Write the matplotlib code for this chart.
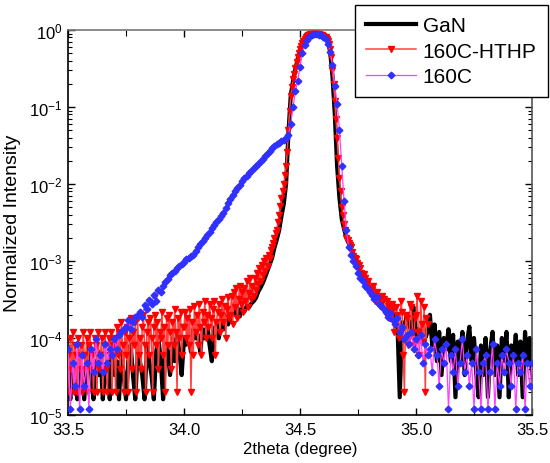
import numpy as np
import matplotlib
matplotlib.use("Agg")
import matplotlib.pyplot as plt
from matplotlib.ticker import LogLocator, FixedLocator, FuncFormatter, NullFormatter

plt.rcParams['font.family'] = ['Liberation Sans', 'DejaVu Sans']
plt.rcParams['mathtext.fontset'] = 'custom'
plt.rcParams['mathtext.rm'] = 'Liberation Sans'

# scan grids (degrees)
theta_start = 33.50
step_gan = 0.01
step_hthp = 0.005
step_c160 = 0.01
unit = 1e-5  # values below are normalized intensity in units of 1e-5

gan = [3.3, 1.6, 5, 3.3, 1.6, 6.6, 3.3, 1.6, 5, 8.2,
       3.3, 1.6, 5, 3.3, 6.6, 1.6, 3.3, 5, 1.6, 8.2,
       3.3, 5, 1.6, 6.6, 3.3, 1.6, 5, 8.2, 3.3, 1.6,
       6.6, 5, 3.3, 1.6, 8.2, 5, 3.3, 1.6, 6.6, 9.9,
       5, 1.6, 8.2, 6.6, 3.3, 9.9, 5, 11, 6.6, 3.3,
       9.9,
       8.2, 11, 6.6, 13, 9.9, 11, 6.6, 13, 9.9, 15,
       8.2, 5, 13, 15, 9.9, 17, 13, 20, 15, 18,
       23, 20, 25, 19, 24, 22, 26, 25, 28, 30,
       33, 40, 45, 52, 62, 75, 90, 110, 150, 190,
       250, 380, 550, 1000, 4500, 14000, 22000, 31000, 42000, 55000,
       68000, 76000, 82000, 86000, 88000, 89000, 89000, 88000, 86000, 84000,
       80000, 72000, 52000, 25000, 8000, 1700, 660, 350, 260, 200,
       170, 140, 120, 100, 85, 72, 60, 55, 48, 42,
       40, 35, 33, 30, 26, 24, 22, 25, 20, 18,
       20, 15, 1.7, 16, 13, 20, 15, 12, 25, 11,
       13, 9, 15, 10, 12, 20, 8, 15, 5, 12,
       3.3, 10, 7, 13, 5, 11, 1.7, 9, 5, 12,
       3.3, 9, 14, 5, 10, 3.3, 1.7, 8, 3.3, 10,
       1.7, 7, 12, 3.3, 8, 1.7, 10, 5, 12, 1.7,
       8, 5, 11, 3.3, 9, 1.7, 12, 5, 10, 3.3]

hthp = [6, 2, 10, 4, 12, 2, 8, 6, 2, 10,
        4, 8, 2, 12, 6, 4, 10, 2, 8, 12,
        4, 6, 2, 10, 8, 2, 12, 4, 6, 10,
        2, 8, 12, 4, 2, 10, 6, 12, 2, 8,
        10, 2, 14, 6, 12, 4, 16, 8, 2, 12,
        6, 14, 2, 10, 18, 4, 12, 8, 16, 2,
        18, 6, 10, 4, 14, 20, 8, 2, 12, 16,
        6, 18, 10, 2, 14, 20, 8, 16, 4, 12,
        10, 22, 6, 14, 2, 18, 8, 20, 12, 4,
        16, 8, 24, 12, 2, 18, 10, 22, 6, 14,
        14, 22, 10, 18, 8, 24, 2, 16, 6, 26,
        12, 20, 8, 28, 14, 6, 22, 16, 30, 10,
        20, 14, 28, 18, 10, 24, 30, 6, 16, 22,
        28, 12, 20, 32, 16, 26, 10, 24, 34, 18,
        20, 35, 15, 40, 25, 45, 18, 32, 48, 28,
        40, 22, 45, 30, 55, 25, 38, 60, 32, 48,
        35, 60, 42, 70, 50, 80, 55, 90, 65, 100,
        75, 110, 85, 120, 110, 140, 150, 170, 200, 230,
        250, 320, 400, 520, 660, 800, 1000, 1300, 1700, 2600,
        5000, 9000, 14000, 18000, 23000, 27000, 32000, 38000, 44000, 50000,
        56000, 62000, 68000, 73000, 77000, 80000, 83000, 85000, 87000, 88000,
        89000, 90000, 90000, 90000, 89000, 88500, 88000, 87000, 86000, 85000,
        84000, 82000, 80000, 77000, 73000, 66000, 56000, 44000, 30000, 20000,
        12000, 7000, 4000, 2200, 1200, 800, 500, 400, 300, 250,
        200, 185, 170, 160, 150, 130, 115, 110, 105, 95,
        85, 90, 80, 70, 62, 68, 60, 52, 50, 55,
        45, 40, 42, 48, 36, 30, 40, 34, 30, 26,
        28, 35, 32, 22, 22, 30, 26, 18, 18, 28,
        24, 12, 15, 25, 20, 10, 12, 30, 22, 6,
        2, 20, 18, 8, 10, 28, 25, 12, 8, 18,
        20, 35, 12, 6, 30, 15, 9, 25, 2, 18,
        15]

c160 = [7.2, 1.2, 4.8, 2.4, 8.4, 1.2, 6, 2.4, 4.8, 1.2, 7.2,
        3.6, 9.6, 4.8, 6, 3.6, 8.4, 4.8, 7.2, 6, 9.6,
        7.2, 11, 12, 13, 14, 17, 13, 16, 19, 20,
        22, 19, 27, 24, 31, 28, 36, 30, 42, 40,
        48, 53, 58, 66, 70, 74, 80, 86, 92, 98,
        105, 110, 116, 120, 135, 150, 165, 180, 200, 220,
        240, 265, 290, 320, 350, 380, 420, 490, 560, 640,
        720, 800, 880, 970, 1080, 1180, 1280, 1380, 1480, 1600,
        1700, 1820, 1960, 2100, 2300, 2500, 2700, 2900, 3100, 3300,
        3450, 3600, 3750, 3900, 4300, 6000, 10000, 16000, 22000, 33000,
        50000, 64000, 74000, 81000, 86000, 88000, 88000, 87000, 85000, 82000,
        76000, 66000, 52000, 35000, 19000, 11000, 5000, 1700, 600, 250,
        150, 120, 100, 85, 70, 60, 55, 48, 44, 40,
        36, 32, 34, 28, 26, 24, 22, 19, 21, 17,
        15, 18, 12, 14, 9.6, 10.8, 8.4, 12, 7.2, 9.6,
        6, 10.8, 4.8, 8.4, 6, 7.2, 3.6, 9.6, 6, 2.4,
        7.2, 4.8, 8.4, 1.2, 6, 3.6, 7.2, 2.4, 4.8, 9.6,
        3.6, 6, 2.4, 4.8, 1.2, 7.2, 3.6, 1.2, 4.8, 6,
        1.2, 3.6, 8.4, 1.2, 4.8, 2.4, 6, 3.6, 7.2, 4.8,
        2.4, 6, 1.2, 4.8, 3.6, 6, 1.2, 4.8, 2.4, 4.8]

labels = ["GaN", "160C-HTHP", "160C"]
x_ticks = [33.5, 34.0, 34.5, 35.0, 35.5]
x_tick_labels = ["33.5", "34.0", "34.5", "35.0", "35.5"]

def grid(n, step):
    return theta_start + step * np.arange(n)

fig = plt.figure(figsize=(5.5, 4.64), dpi=100)
ax = fig.add_axes([68/550, 1-416/464, (532-68)/550, (416-31)/464])

ax.plot(grid(len(gan), step_gan), np.array(gan) * unit, color='black', lw=3,
        label=labels[0], zorder=2)
ax.plot(grid(len(hthp), step_hthp), np.array(hthp) * unit, color='#ff4040', lw=1.1,
        marker='v', ms=5, mfc='#ff0000', mec='#ff0000', label=labels[1], zorder=3)
ax.plot(grid(len(c160), step_c160), np.array(c160) * unit, color='#ff40ff', lw=0.9,
        marker='D', ms=3.4, mfc='#3030ff', mec='#3030ff', label=labels[2], zorder=4)

ax.set_yscale('log')
ax.set_xlim(33.5, 35.5)
ax.set_ylim(1e-5, 1)

ax.xaxis.set_major_locator(FixedLocator(x_ticks))
ax.set_xticklabels(x_tick_labels)
ax.xaxis.set_minor_locator(FixedLocator([33.75, 34.25, 34.75, 35.25]))
ax.yaxis.set_major_locator(LogLocator(base=10, numticks=10))
ax.yaxis.set_minor_locator(LogLocator(base=10, subs=np.arange(2, 10), numticks=20))
ax.yaxis.set_minor_formatter(NullFormatter())
ax.yaxis.set_major_formatter(FuncFormatter(lambda v, p: r'$\mathregular{10^{%d}}$' % int(round(np.log10(v)))))

ax.tick_params(which='both', direction='in', top=True, right=True, labelsize=12)
ax.tick_params(axis='y', pad=4)
ax.tick_params(axis='x', pad=5)
ax.tick_params(which='major', length=5, width=1)
ax.tick_params(which='minor', length=3, width=0.8)
ax.tick_params(axis='x', which='minor', length=4)
for s in ax.spines.values():
    s.set_linewidth(1.2)
ax.spines['top'].set_color('#777777')
ax.spines['right'].set_color('#555555')

ax.set_xlabel("2theta (degree)", fontsize=12, labelpad=3)
ax.set_ylabel("Normalized Intensity", fontsize=14, labelpad=6)

leg = fig.legend(loc='upper right', bbox_to_anchor=(548/550, 1-6/464), fontsize=15,
                 frameon=True, fancybox=False, edgecolor='black', framealpha=1,
                 handlelength=2.4, handletextpad=0.3, labelspacing=0.3, borderpad=0.55,
                 borderaxespad=0)
leg.get_frame().set_linewidth(1.0)
leg.set_zorder(10)

fig.savefig("out.png", dpi=100)
